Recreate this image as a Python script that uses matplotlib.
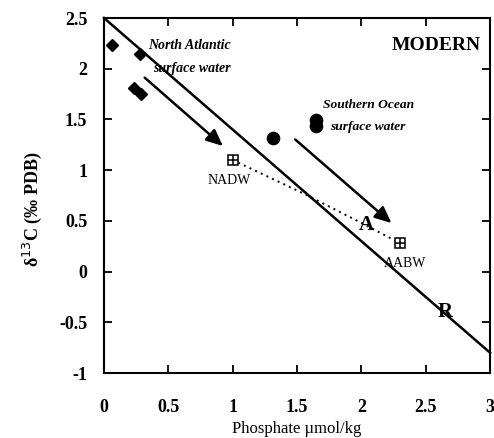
import matplotlib.pyplot as plt

plt.rcParams['font.family'] = ['Liberation Serif', 'DejaVu Serif']

# data
diamond_x = [0.06, 0.28, 0.23, 0.29]
diamond_y = [2.23, 2.15, 1.81, 1.75]
circle_x = [1.31, 1.65, 1.65]
circle_y = [1.32, 1.44, 1.49]
deep_names = ['NADW', 'AABW']
deep_x = [1.0, 2.30]
deep_y = [1.10, 0.28]
mix_x = [1.0, 1.55, 2.0, 2.30]
mix_y = [1.10, 0.77, 0.48, 0.28]
line_x = [0, 3]
line_y = [2.5, -0.8]
xticks = [0, 0.5, 1, 1.5, 2, 2.5, 3]
yticks = [-1, -0.5, 0, 0.5, 1, 1.5, 2, 2.5]

fig = plt.figure(figsize=(4.94, 4.38), dpi=100)
ax = fig.add_axes([0.2105, 0.1484, 0.7815, 0.8105])

ax.plot(line_x, line_y, color='black', lw=1.8, clip_on=False)
ax.plot(mix_x, mix_y, color='black', lw=1.4, linestyle=(0, (1, 2.2)))
ax.plot(diamond_x, diamond_y, 'D', color='black', markersize=6.5, clip_on=False)
ax.plot(circle_x, circle_y, 'o', color='black', markersize=8.8)
ax.plot(deep_x, deep_y, 's', color='black', markerfacecolor='white',
        markersize=7.5, markeredgewidth=1.1)
ax.plot(deep_x, deep_y, '+', color='black', markersize=7.5, markeredgewidth=1.1)

# arrows
ax.annotate('', xy=(0.94, 1.22), xytext=(0.30, 1.93),
            arrowprops=dict(arrowstyle='-|>,head_length=1.0,head_width=0.45',
                            color='black', lw=1.8))
ax.annotate('', xy=(2.25, 0.46), xytext=(1.47, 1.32),
            arrowprops=dict(arrowstyle='-|>,head_length=1.0,head_width=0.45',
                            color='black', lw=1.8))

ax.text(0.34, 2.23, 'North Atlantic', style='italic', weight='bold',
        fontsize=10, va='center')
ax.text(0.38, 2.0, 'surface water', style='italic', weight='bold',
        fontsize=10, va='center')
ax.text(1.70, 1.64, 'Southern Ocean', style='italic', weight='bold',
        fontsize=9.7, va='center')
ax.text(1.76, 1.43, 'surface water', style='italic', weight='bold',
        fontsize=9.7, va='center')
ax.text(2.93, 2.23, 'MODERN', weight='bold', fontsize=14, ha='right', va='center')
ax.text(0.97, 0.90, deep_names[0], fontsize=10, ha='center', va='center')
ax.text(2.34, 0.08, deep_names[1], fontsize=10, ha='center', va='center')
ax.text(2.04, 0.46, 'A', weight='bold', fontsize=15, ha='center', va='center')
ax.text(2.65, -0.40, 'R', weight='bold', fontsize=15, ha='center', va='center')

ax.set_xlim(0, 3)
ax.set_ylim(-1, 2.5)
ax.set_xticks(xticks)
ax.set_xticklabels([f'{v:g}' for v in xticks], fontweight='bold')
ax.set_yticks(yticks)
ax.set_yticklabels([f'{v:g}' for v in yticks], fontweight='bold')
ax.tick_params(direction='in', top=True, right=True, length=6, width=1.3,
               labelsize=13)
ax.tick_params(axis='x', pad=19)
ax.tick_params(axis='y', pad=12)
for s in ax.spines.values():
    s.set_linewidth(1.5)

ax.set_xlabel('Phosphate µmol/kg', fontsize=12, labelpad=3)
ax.set_ylabel('δ$^{13}$C (‰ PDB)', fontsize=13, fontweight='bold')
ax.yaxis.set_label_coords(-0.155, 0.46)

fig.savefig('out.png', dpi=100)
